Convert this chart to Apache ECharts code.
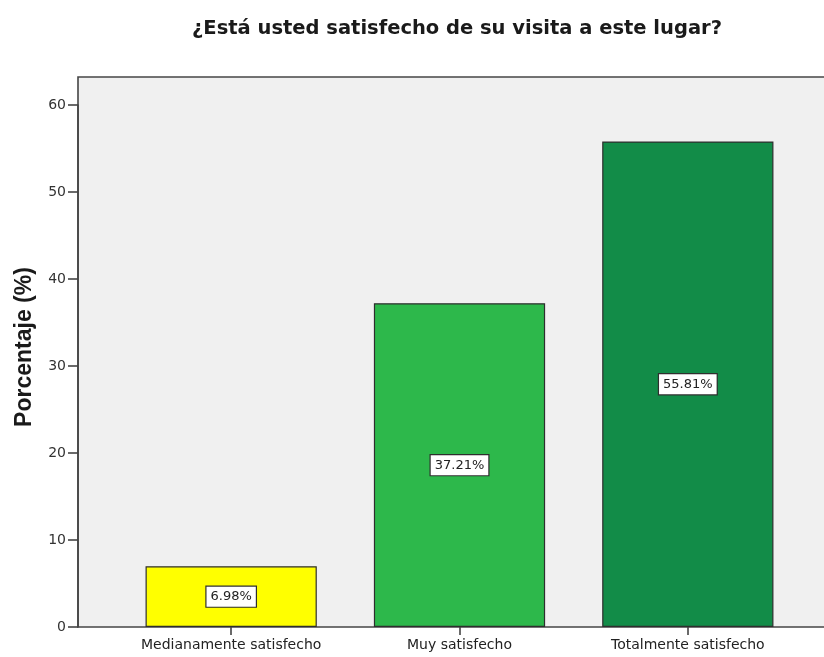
<!DOCTYPE html>
<html>
<head>
<meta charset="utf-8">
<script src="https://cdn.jsdelivr.net/npm/echarts@6/dist/echarts.min.js"></script>
<style>
  html, body { margin: 0; padding: 0; background: #ffffff; }
  #chart { width: 824px; height: 657px; }
</style>
</head>
<body>
<div id="chart"></div>
<script>
// Survey answers and their share of respondents (%)
const categories = ['Medianamente satisfecho', 'Muy satisfecho', 'Totalmente satisfecho'];
const percentages = [6.98, 37.21, 55.81];
const barColors = ['#ffff00', '#2db84b', '#128c48'];
const yTicks = [0, 10, 20, 30, 40, 50, 60];

const WIDE_FONT = '"DejaVu Sans", Verdana, sans-serif';
const AXIS_TITLE_FONT = '"Liberation Sans", Arial, sans-serif';

// Plot frame layout (px)
const frame = { left: 78, top: 77, bottom: 627 };
const grid = { left: 117, right: 22, top: 105, bottom: 30 };

const chart = echarts.init(document.getElementById('chart'), null, { renderer: 'canvas' });

chart.setOption({
  backgroundColor: '#ffffff',
  animation: false,
  title: {
    text: '¿Está usted satisfecho de su visita a este lugar?',
    left: 452,
    textAlign: 'center',
    top: 14,
    textStyle: { fontFamily: WIDE_FONT, fontSize: 19.5, fontWeight: 'bold', color: '#1a1a1a' }
  },
  graphic: [{
    type: 'rect',
    z: -1,
    silent: true,
    shape: { x: frame.left, y: frame.top, width: 900, height: frame.bottom - frame.top },
    style: { fill: '#f0f0f0', stroke: '#454545', lineWidth: 1.6 }
  }],
  grid: { left: grid.left, right: grid.right, top: grid.top, bottom: grid.bottom },
  xAxis: {
    type: 'category',
    data: categories,
    boundaryGap: true,
    axisLine: { show: false },
    axisTick: { show: true, alignWithLabel: true, interval: 0, length: 8, lineStyle: { color: '#454545', width: 1.6 } },
    axisLabel: { interval: 0, hideOverlap: false, fontFamily: WIDE_FONT, fontSize: 14, color: '#222', margin: 11 },
    splitLine: { show: false }
  },
  yAxis: {
    type: 'value',
    min: yTicks[0],
    max: yTicks[yTicks.length - 1],
    interval: 10,
    offset: grid.left - frame.left,
    name: 'Porcentaje (%)',
    nameLocation: 'middle',
    nameGap: 42,
    nameRotate: 90,
    nameTextStyle: {
      fontFamily: AXIS_TITLE_FONT, fontSize: 23, fontWeight: 'bold', color: '#1a1a1a',
      padding: [0, 0, 0, 38]
    },
    axisLine: { show: true, lineStyle: { color: '#454545', width: 1.6 } },
    axisTick: { show: true, length: 10, lineStyle: { color: '#454545', width: 1.6 } },
    axisLabel: { fontFamily: WIDE_FONT, fontSize: 14, color: '#333', margin: 12 },
    splitLine: { show: false }
  },
  series: [{
    type: 'bar',
    barWidth: '75%',
    data: percentages.map((v, i) => ({
      value: v,
      itemStyle: { color: barColors[i] }
    })),
    itemStyle: { borderColor: '#2e2e2e', borderWidth: 1.2 },
    label: {
      show: true,
      position: 'inside',
      formatter: p => p.value.toFixed(2) + '%',
      fontFamily: WIDE_FONT,
      fontSize: 13,
      color: '#222',
      backgroundColor: '#ffffff',
      borderColor: '#2e2e2e',
      borderWidth: 1.2,
      padding: [4, 4, 3, 4]
    }
  }]
});
</script>
</body>
</html>
